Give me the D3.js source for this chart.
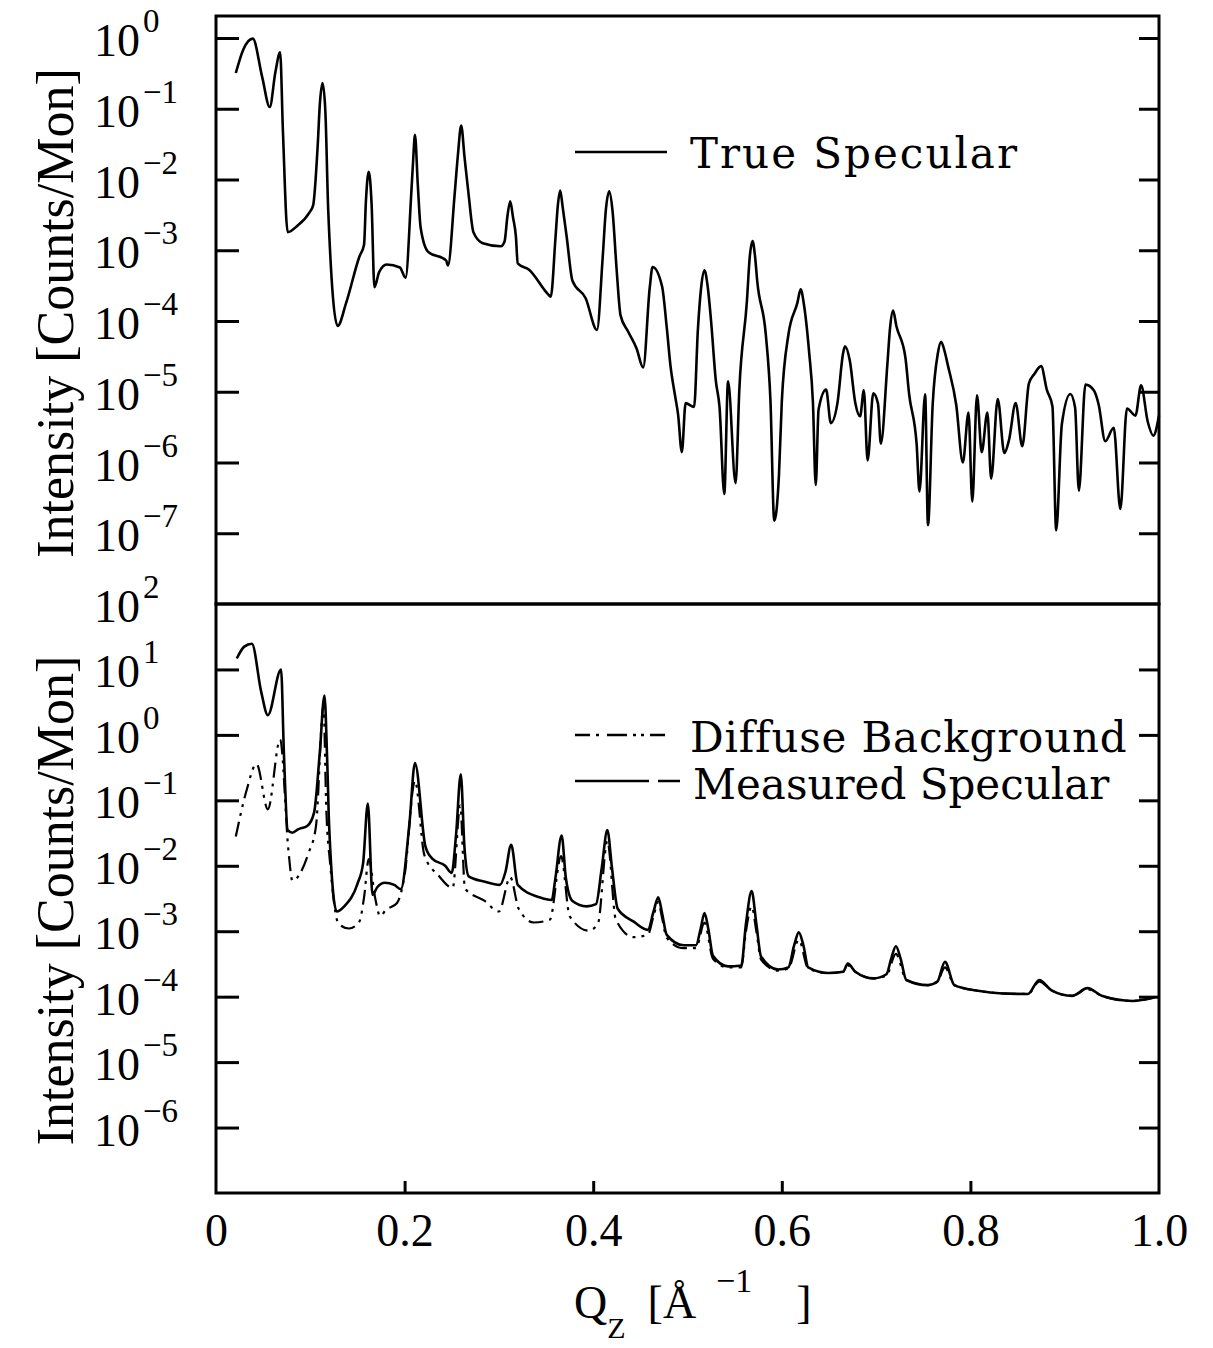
<!DOCTYPE html>
<html>
<head>
<meta charset="utf-8">
<script src="https://cdn.jsdelivr.net/npm/d3@7"></script>
<style>
body { margin: 0; background: #fff; }
text { font-family: "Liberation Serif", serif; fill: #000; }
.legend text { font-family: "DejaVu Serif", serif; }
</style>
</head>
<body>
<script>
// upper panel : true specular
var trueQ = [0.021,0.029,0.039,0.049,0.057,0.063,0.068,0.071,0.076,0.086,0.099,0.103,0.108,0.110,0.113,0.116,0.119,0.129,0.138,0.152,
  0.157,0.159,0.162,0.165,0.168,0.173,0.181,0.195,0.201,0.207,0.209,0.211,0.214,0.217,0.225,0.244,0.246,0.253,0.2565,0.260,
  0.2635,0.268,0.273,0.283,0.302,0.306,0.309,0.312,0.315,0.318,0.320,0.332,0.352,0.355,0.360,0.3625,0.365,0.3675,0.372,0.378,
  0.392,0.404,0.410,0.4135,0.417,0.4205,0.425,0.429,0.437,0.446,0.453,0.460,0.463,0.473,0.478,0.482,0.487,0.490,0.494,0.498,
  0.507,0.511,0.5145,0.518,0.5215,0.525,0.530,0.534,0.539,0.543,0.551,0.555,0.563,0.566,0.569,0.5715,0.574,0.583,0.588,0.592,
  0.597,0.600,0.607,0.6165,0.620,0.6235,0.629,0.633,0.636,0.639,0.647,0.652,0.659,0.665,0.667,0.672,0.678,0.683,0.687,0.691,
  0.697,0.702,0.705,0.712,0.7148,0.718,0.7215,0.731,0.735,0.743,0.746,0.752,0.755,0.760,0.7655,0.769,0.7725,0.776,0.785,0.792,
  0.798,0.802,0.807,0.812,0.818,0.822,0.829,0.836,0.841,0.848,0.855,0.862,0.868,0.875,0.881,0.887,0.891,0.897,0.906,0.911,
  0.915,0.922,0.931,0.936,0.943,0.952,0.959,0.966,0.975,0.981,0.988,0.994,1.000]
var trueI = [0.32,0.69,0.98,0.28,0.106,0.33,0.63,0.047,1.8e-3,2.2e-3,3.4e-3,4.3e-3,0.033,0.11,0.23,0.09,3.7e-3,8.5e-5,1.8e-4,8.1e-4,
  1.2e-3,5.0e-3,0.0129,4.5e-3,3.0e-4,4.9e-4,6.3e-4,5.7e-4,4.1e-4,6.1e-3,0.018,0.043,8.4e-3,2.1e-3,9.5e-4,7.2e-4,6.1e-4,6.0e-3,0.022,0.058,
  0.021,5.9e-3,1.8e-3,1.26e-3,1.14e-3,1.33e-3,3.0e-3,4.9e-3,2.9e-3,1.58e-3,6.5e-4,5.3e-4,2.4e-4,2.2e-4,1.5e-3,4.3e-3,7.0e-3,4.2e-3,1.5e-3,3.7e-4,
  2.1e-4,7.5e-5,7.7e-4,3.8e-3,6.8e-3,3.6e-3,5.0e-4,1.2e-4,7.1e-5,4.1e-5,2.2e-5,3.0e-4,5.8e-4,3.1e-4,8.1e-5,2.3e-5,8.5e-6,4.8e-6,1.4e-6,6.9e-6,
  6.1e-6,7.5e-5,3.0e-4,5.2e-4,3.0e-4,1.0e-4,1.45e-5,6.0e-6,3.6e-7,1.4e-5,5.1e-7,1.1e-5,1.9e-4,8.0e-4,1.35e-3,8.5e-4,3.6e-4,6.5e-5,7.3e-6,1.5e-7,
  6.7e-7,7.2e-6,6.4e-5,1.8e-4,2.8e-4,1.7e-4,3.6e-5,7.1e-6,4.8e-7,5.6e-6,1.07e-5,3.6e-6,6.9e-6,3.5e-5,4.4e-5,2.8e-5,6.9e-6,4.5e-6,1.05e-5,1.07e-6,
  9.5e-6,6.8e-6,1.85e-6,2.5e-5,8.0e-5,1.4e-4,8.5e-5,3.1e-5,9.3e-6,1.8e-6,3.9e-7,9.2e-6,1.3e-7,6.6e-6,3.5e-5,5.1e-5,3.8e-5,2.4e-5,6.5e-6,1.0e-6,
  5.1e-6,2.8e-7,8.9e-6,1.4e-6,5.1e-6,5.9e-7,7.9e-6,1.36e-6,2.1e-6,6.9e-6,1.7e-6,1.3e-5,1.8e-5,2.3e-5,1.07e-5,6.2e-6,1.1e-7,3.5e-6,9.3e-6,6.0e-6,
  4.0e-7,1.26e-5,1.04e-5,6.6e-6,2.0e-6,3.1e-6,2.2e-7,5.8e-6,4.6e-6,1.23e-5,3.8e-6,2.4e-6,4.6e-6]

// lower panel : measured specular
var measQ = [0.022,0.030,0.038,0.048,0.055,0.069,0.072,0.076,0.081,0.087,0.097,0.104,0.110,0.115,0.118,0.120,0.128,0.136,0.150,0.156,
  0.161,0.166,0.171,0.179,0.189,0.196,0.205,0.211,0.222,0.229,0.243,0.250,0.2545,0.2596,0.2634,0.268,0.285,0.301,0.307,0.313,
  0.320,0.343,0.356,0.360,0.3665,0.371,0.378,0.393,0.403,0.409,0.415,0.420,0.426,0.443,0.458,0.464,0.469,0.473,0.478,0.496,
  0.509,0.514,0.518,0.522,0.527,0.543,0.557,0.562,0.568,0.573,0.578,0.596,0.607,0.613,0.618,0.623,0.628,0.649,0.665,0.670,
  0.678,0.697,0.711,0.716,0.721,0.726,0.732,0.755,0.765,0.773,0.783,0.808,0.834,0.861,0.873,0.886,0.908,0.924,0.940,0.972,0.995]
var measI = [14.7,22.3,24.7,4.5,2.0,10.0,0.53,0.035,0.032,0.036,0.041,0.065,0.52,4.0,0.37,0.040,2.0e-3,2.4e-3,5.3e-3,0.011,
  0.089,3.6e-3,4.7e-3,5.5e-3,5.1e-3,4.4e-3,0.042,0.37,0.020,0.013,0.010,7.8e-3,0.029,0.25,0.020,6.9e-3,5.7e-3,5.1e-3,8.1e-3,0.021,
  5.1e-3,3.3e-3,3.0e-3,6.6e-3,0.029,6.5e-3,2.9e-3,2.4e-3,2.6e-3,9.1e-3,0.035,9.0e-3,2.2e-3,1.4e-3,1.05e-3,2.0e-3,3.3e-3,1.9e-3,8.8e-4,6.1e-4,
  6.1e-4,1.1e-3,1.9e-3,1.1e-3,4.2e-4,2.9e-4,3.0e-4,1.3e-3,4.1e-3,1.3e-3,4.1e-4,2.6e-4,2.8e-4,6.0e-4,9.6e-4,6.0e-4,2.8e-4,2.3e-4,2.4e-4,3.2e-4,
  2.4e-4,1.9e-4,2.2e-4,3.8e-4,5.9e-4,3.8e-4,1.8e-4,1.5e-4,1.7e-4,3.4e-4,1.5e-4,1.23e-4,1.12e-4,1.1e-4,1.8e-4,1.25e-4,1.03e-4,1.35e-4,1.02e-4,8.6e-5,9.7e-5]

// lower panel : diffuse background
var diffQ = [0.021,0.032,0.043,0.055,0.068,0.077,0.081,0.098,0.106,0.114,0.117,0.121,0.130,0.141,0.152,0.157,0.162,0.169,0.174,0.180,
  0.192,0.200,0.211,0.221,0.236,0.251,0.259,0.264,0.285,0.300,0.312,0.321,0.337,0.354,0.366,0.375,0.395,0.405,0.415,0.424,
  0.443,0.458,0.464,0.469,0.473,0.478,0.496,0.509,0.518,0.527,0.543,0.557,0.562,0.568,0.573,0.578,0.596,0.607,0.618,0.628,
  0.649,0.665,0.670,0.678,0.697,0.711,0.721,0.732,0.755,0.765,0.773,0.783,0.808,0.834,0.861,0.873,0.886,0.908,0.924,0.940,0.972,0.995]
var diffI = [0.028,0.135,0.36,0.073,0.85,0.016,5.9e-3,0.0155,0.040,2.8,0.071,0.011,1.3e-3,1.1e-3,1.4e-3,3.3e-3,0.0126,3.1e-3,1.7e-3,2.1e-3,
  2.7e-3,7.2e-3,0.20,0.0145,7.1e-3,4.6e-3,0.083,4.5e-3,2.9e-3,2.0e-3,6.7e-3,2.2e-3,1.36e-3,1.5e-3,0.014,1.7e-3,1.02e-3,1.3e-3,0.024,1.5e-3,
  8.1e-4,8.9e-4,1.7e-3,2.8e-3,1.6e-3,7.9e-4,5.5e-4,5.5e-4,1.35e-3,3.8e-4,2.8e-4,2.8e-4,1.0e-3,2.4e-3,1.0e-3,3.7e-4,2.5e-4,2.7e-4,7.4e-4,2.7e-4,
  2.3e-4,2.4e-4,3.0e-4,2.4e-4,1.9e-4,2.1e-4,4.5e-4,1.8e-4,1.5e-4,1.7e-4,2.8e-4,1.5e-4,1.23e-4,1.12e-4,1.1e-4,1.7e-4,1.25e-4,1.03e-4,1.3e-4,1.02e-4,8.6e-5,9.7e-5]

// ticks
var topDecades = [0, -1, -2, -3, -4, -5, -6, -7]
var botDecades = [2, 1, 0, -1, -2, -3, -4, -5, -6]
var qTicks = [0, 0.2, 0.4, 0.6, 0.8, 1.0]

var W = 1213, H = 1348
var left = 216, right = 1159
var topY0 = 16, midY = 604, botY1 = 1193

var svg = d3.select("body").append("svg")
    .attr("width", W)
    .attr("height", H)

var x = d3.scaleLinear().domain([0, 1]).range([left, right])
var yTop = d3.scaleLog().domain([1e-8, Math.pow(10, 0.311)]).range([midY, topY0])
var yBot = d3.scaleLog().domain([1e-7, 100]).range([botY1, midY])

function sup(d) {
    return d < 0 ? "\u2212" + Math.abs(d) : "" + d
}

//draw one panel : ticks, labels, frame
function drawPanel(yScale, decades, y0, y1) {
    var tv = decades.map(function(d) { return Math.pow(10, d) })
        .filter(function(v) { return yScale(v) > y0 + 2 })

    svg.append("g")
        .attr("transform", "translate(" + left + ",0)")
        .call(d3.axisRight(yScale).tickValues(tv).tickSize(23).tickFormat(""))
        .call(function(g) { g.select(".domain").remove() })
    svg.append("g")
        .attr("transform", "translate(" + right + ",0)")
        .call(d3.axisLeft(yScale).tickValues(tv).tickSize(20).tickFormat(""))
        .call(function(g) { g.select(".domain").remove() })
    svg.selectAll(".tick line").attr("stroke", "#000").attr("stroke-width", 3)

    var lab = svg.append("g")
    decades.forEach(function(d) {
        var yy = yScale(Math.pow(10, d))
        lab.append("text").attr("x", 94).attr("y", yy + 18)
            .attr("font-size", 46).text("10")
        lab.append("text").attr("x", 143).attr("y", yy - 6)
            .attr("font-size", 33).text(sup(d))
    })

    svg.append("rect")
        .attr("x", left).attr("y", y0)
        .attr("width", right - left).attr("height", y1 - y0)
        .attr("fill", "none").attr("stroke", "#000").attr("stroke-width", 3)
}

drawPanel(yTop, topDecades, topY0, midY)
drawPanel(yBot, botDecades, midY, botY1)

// curves
function lineFor(yScale) {
    return d3.line()
        .x(function(d) { return x(d[0]) })
        .y(function(d) { return yScale(d[1]) })
        .curve(d3.curveMonotoneX)
}

svg.append("path")
    .attr("d", lineFor(yTop)(d3.zip(trueQ, trueI)))
    .attr("fill", "none").attr("stroke", "#000").attr("stroke-width", 2.6)

svg.append("path")
    .attr("d", lineFor(yBot)(d3.zip(diffQ, diffI)))
    .attr("fill", "none").attr("stroke", "#000").attr("stroke-width", 2.2)
    .attr("stroke-dasharray", "15,6,3,6,3,6")

svg.append("path")
    .attr("d", lineFor(yBot)(d3.zip(measQ, measI)))
    .attr("fill", "none").attr("stroke", "#000").attr("stroke-width", 2.6)

// bottom axis
svg.append("g")
    .attr("transform", "translate(0," + botY1 + ")")
    .call(d3.axisBottom(x).tickValues([0.2, 0.4, 0.6, 0.8]).tickSize(-12).tickFormat(""))
    .call(function(g) { g.select(".domain").remove() })
    .selectAll("line").attr("stroke", "#000").attr("stroke-width", 3)

var xl = svg.append("g")
    .attr("transform", "translate(0," + botY1 + ")")
    .call(d3.axisBottom(x).tickValues(qTicks).tickSize(0).tickPadding(28)
        .tickFormat(function(d) { return d == 0 ? "0" : d3.format(".1f")(d) }))
xl.select(".domain").remove()
xl.selectAll("text")
    .attr("font-family", "Liberation Serif, serif")
    .attr("font-size", 46)
    .attr("dy", "0.55em")
    .attr("fill", "#000")

// axis titles
var xt = svg.append("text").attr("x", 574).attr("y", 1318).attr("font-size", 46)
xt.append("tspan").text("Q")
xt.append("tspan").attr("dy", 20).attr("font-size", 30).text("Z")
xt.append("tspan").attr("dy", -20).attr("dx", 22).text("[\u00c5")
xt.append("tspan").attr("dy", -26).attr("dx", 20).attr("font-size", 34).text("\u22121")
xt.append("tspan").attr("dy", 26).attr("dx", 44).text("]")

svg.append("text")
    .attr("transform", "translate(73," + ((topY0 + midY) / 2 + 3) + ") rotate(-90)")
    .attr("text-anchor", "middle").attr("font-size", 52)
    .text("Intensity [Counts/Mon]")
svg.append("text")
    .attr("transform", "translate(73," + ((midY + botY1) / 2 + 2) + ") rotate(-90)")
    .attr("text-anchor", "middle").attr("font-size", 52)
    .text("Intensity [Counts/Mon]")

// legends
var leg = svg.append("g").attr("class", "legend")
leg.append("line").attr("x1", 575).attr("x2", 667).attr("y1", 152).attr("y2", 152)
    .attr("stroke", "#000").attr("stroke-width", 2.6)
leg.append("text").attr("x", 690).attr("y", 168).attr("font-size", 42)
    .attr("letter-spacing", 2).text("True Specular")

leg.append("line").attr("x1", 575).attr("x2", 665).attr("y1", 735).attr("y2", 735)
    .attr("stroke", "#000").attr("stroke-width", 2.6)
    .attr("stroke-dasharray", "15,6,3,8,20,6,3,5,3,6")
leg.append("text").attr("x", 690).attr("y", 752).attr("font-size", 42)
    .attr("letter-spacing", 0.8).text("Diffuse Background")

leg.append("line").attr("x1", 575).attr("x2", 680).attr("y1", 781).attr("y2", 781)
    .attr("stroke", "#000").attr("stroke-width", 2.6)
    .attr("stroke-dasharray", "74,9,22")
leg.append("text").attr("x", 693).attr("y", 799).attr("font-size", 42).text("Measured Specular")
</script>
</body>
</html>
